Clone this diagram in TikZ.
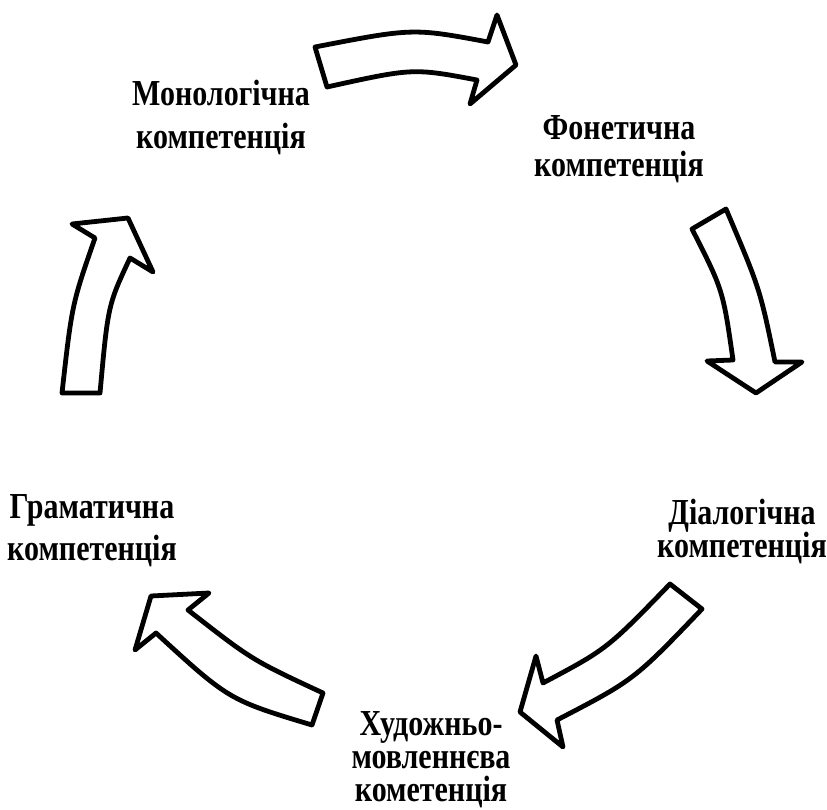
\documentclass[tikz,border=0pt]{standalone}
\usepackage{fontspec}
\setmainfont{Liberation Serif}
\newcommand{\tallword}[1]{\scalebox{1}[1.22]{#1}}
\begin{document}
\begin{tikzpicture}[x=1pt,y=-1pt,
  blockarrow/.style={draw=black,fill=white,line width=4.8pt,line join=round},
  lbl/.style={anchor=base,inner sep=0pt,font=\fontsize{30}{36}\selectfont\bfseries}]
\useasboundingbox (0,0) rectangle (827,810);

% curved block arrows around the cycle
\draw[blockarrow] (315,47) .. controls (413,28) .. (488,42) -- (497,15) -- (516,65)
  -- (470,104) -- (477,80) .. controls (413,68) .. (327,87) -- cycle;
\draw[blockarrow] (726,209) .. controls (760,289) .. (775,362) -- (802,362) -- (756,393)
  -- (707,361) -- (733,360) .. controls (723,290) .. (692,229) -- cycle;
\draw[blockarrow] (702,609) .. controls (634,680) .. (557,720) -- (563,747) -- (520,712)
  -- (536,656) -- (543,683) .. controls (607,649) .. (670,584) -- cycle;
\draw[blockarrow] (312,725) .. controls (229,700) .. (156,633) -- (135,650) -- (151,596)
  -- (209,593) -- (188,610) .. controls (252,660) .. (323,693) -- cycle;
\draw[blockarrow] (62,393) .. controls (72,304) .. (95,238) -- (72,224) -- (128,218)
  -- (153,272) -- (130,258) .. controls (108,305) .. (100,393) -- cycle;

% labels
\node[lbl] (mono1) at (221,106) {\tallword{Монологічна}};
\node[lbl] (mono2) at (221,149) {\tallword{компетенція}};
\node[lbl] (fon1) at (619,140) {\tallword{Фонетична}};
\node[lbl] (fon2) at (619,177) {\tallword{компетенція}};
\node[lbl] (dial1) at (742,524) {\tallword{Діалогічна}};
\node[lbl] (dial2) at (742,557) {\tallword{компетенція}};
\node[lbl] (hud1) at (431,735) {\tallword{Художньо-}};
\node[lbl] (hud2) at (431,768) {\tallword{мовленнєва}};
\node[lbl] (hud3) at (431,801) {\tallword{кометенція}};
\node[lbl] (gram1) at (92,518) {\tallword{Граматична}};
\node[lbl] (gram2) at (92,560) {\tallword{компетенція}};
\end{tikzpicture}
\end{document}
